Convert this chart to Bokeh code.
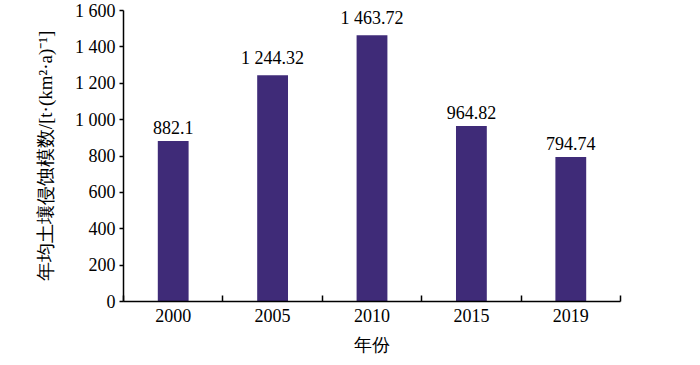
from bokeh.plotting import figure
from bokeh.models import ColumnDataSource, FixedTicker, Range1d
from bokeh.core.properties import value
from bokeh.embed import file_html
from bokeh.resources import INLINE

years = ["2000", "2005", "2010", "2015", "2019"]
erosion = [882.1, 1244.32, 1463.72, 964.82, 794.74]
value_labels = ["882.1", "1 244.32", "1 463.72", "964.82", "794.74"]
y_ticks = [0, 200, 400, 600, 800, 1000, 1200, 1400, 1600]
y_tick_labels = ["0", "200", "400", "600", "800", "1 000", "1 200", "1 400", "1 600"]

xpos = [i + 0.5 for i in range(len(years))]
src = ColumnDataSource(dict(x=xpos, y=erosion, lab=value_labels))

SERIF = "Liberation Serif"

p = figure(width=692, height=357, output_backend="svg", toolbar_location=None,
           x_range=Range1d(0, len(years)), y_range=Range1d(0, 1600),
           min_border_left=123, min_border_right=72, min_border_top=10, min_border_bottom=55)
p.outline_line_color = None
p.xgrid.visible = False
p.ygrid.visible = False
p.background_fill_color = "white"

p.vbar(x="x", top="y", width=0.31, bottom=0, source=src, fill_color="#3f2b78", line_color=None)
p.text(x="x", y="y", text="lab", source=src, text_align="center", text_baseline="bottom",
       y_offset=-7, text_font=value(SERIF), text_font_size="18px", text_color="black")

xa = p.xaxis[0]
xa.ticker = FixedTicker(ticks=xpos, minor_ticks=list(range(len(years) + 1)))
xa.major_label_overrides = {x: y for x, y in zip(xpos, years)}
xa.major_tick_line_color = None
xa.major_tick_in = 0
xa.major_tick_out = 0
xa.minor_tick_in = 6
xa.minor_tick_out = 0
xa.minor_tick_line_color = "black"
xa.minor_tick_line_width = 1.5
xa.axis_line_width = 1.5
xa.axis_line_color = "black"
xa.major_label_text_font = SERIF
xa.major_label_text_font_size = "18px"
xa.major_label_text_color = "black"
xa.major_label_standoff = 7
xa.axis_label = "年份"
xa.axis_label_text_font = SERIF
xa.axis_label_text_font_size = "18px"
xa.axis_label_text_font_style = "normal"
xa.axis_label_text_color = "black"
xa.axis_label_standoff = 10

ya = p.yaxis[0]
ya.ticker = FixedTicker(ticks=y_ticks, minor_ticks=[])
ya.major_label_overrides = {t: l for t, l in zip(y_ticks, y_tick_labels)}
ya.major_tick_in = 0
ya.major_tick_out = 4
ya.major_tick_line_width = 1.5
ya.axis_line_width = 1.5
ya.axis_line_color = "black"
ya.major_label_text_font = SERIF
ya.major_label_text_font_size = "18px"
ya.major_label_text_color = "black"
ya.major_label_standoff = 4
ya.axis_label = "年均土壤侵蚀模数/[t·(km²·a)⁻¹]"
ya.axis_label_text_font = SERIF
ya.axis_label_text_font_size = "19px"
ya.axis_label_text_font_style = "normal"
ya.axis_label_text_color = "black"
ya.axis_label_standoff = 16

open("out.html", "w").write(file_html(p, INLINE))
